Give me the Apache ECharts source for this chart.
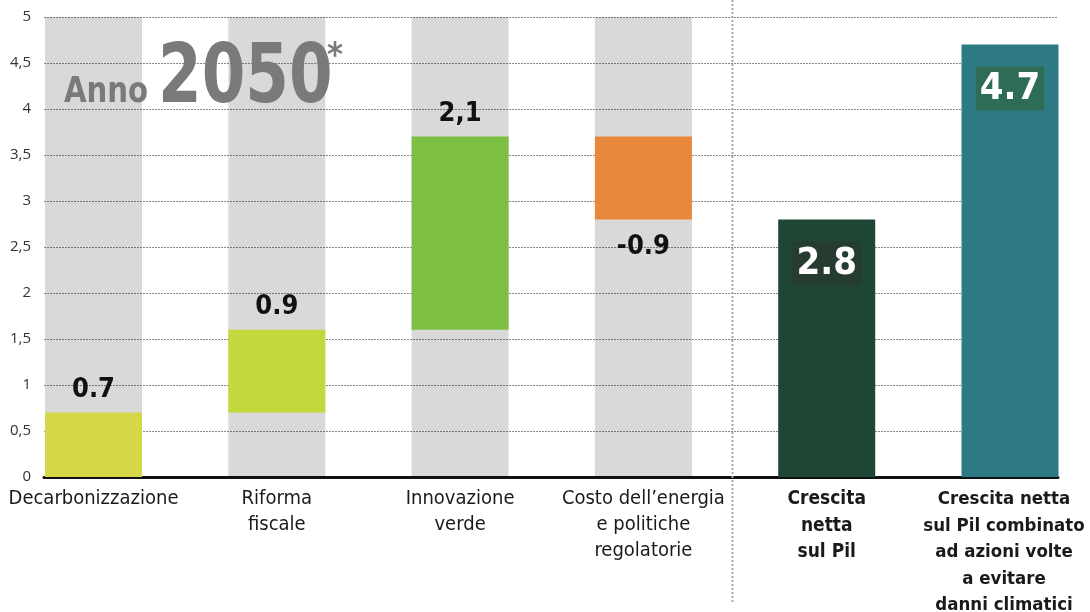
<!DOCTYPE html>
<html><head><meta charset="utf-8">
<script src="https://cdn.jsdelivr.net/npm/echarts@6/dist/echarts.min.js"></script>
<style>html,body{margin:0;padding:0;background:#fff}#c{width:1090px;height:612px}</style>
</head><body><div id="c"></div>
<script>
const categories = ['Decarbonizzazione', 'Riforma\nfiscale', 'Innovazione\nverde', "Costo dell\u2019energia\ne politiche\nregolatorie", 'Crescita\nnetta\nsul Pil', 'Crescita netta\nsul Pil combinato\nad azioni volte\na evitare\ndanni climatici'];
const values = [0.7, 0.9, 2.1, -0.9, 2.8, 4.7];
const isTotal = [false, false, false, false, true, true];
const valueLabels = ['0.7', '0.9', '2,1', '-0.9', '2.8', '4.7'];
const yTickLabels = ['0', '0,5', '1', '1,5', '2', '2,5', '3', '3,5', '4', '4,5', '5'];
const barColors = ['#d5d748', '#c3d83c', '#7cbf42', '#e8883c', '#1f4634', '#2d7a84'];
const totalLabelBg = ['#263c30', '#2f6c55'];

const yMax = 5;
// waterfall construction
let running = 0;
const base = [], delta = [];
values.forEach((v, i) => {
  if (isTotal[i]) { base.push(0); delta.push(v); }
  else if (v >= 0) { base.push(running); delta.push(v); running += v; }
  else { running += v; base.push(running); delta.push(-v); }
});
const bandData = values.map((v, i) => isTotal[i] ? '-' : yMax);

const valueFont = "'DejaVu Sans Condensed', 'DejaVu Sans', sans-serif";
const catFont = "'DejaVu Sans Condensed', 'DejaVu Sans', sans-serif";

const deltaData = delta.map((d, i) => {
  const item = { value: d, itemStyle: { color: barColors[i] } };
  if (isTotal[i]) {
    const ti = i - 4;
    item.label = { show: true, position: 'insideTop', distance: 22, formatter: valueLabels[i],
      color: '#fff', fontSize: 38, fontWeight: 'bold', fontFamily: valueFont,
      backgroundColor: totalLabelBg[ti], padding: [4, 4, 2, 4] };
  } else if (values[i] < 0) {
    item.label = { show: true, position: 'bottom', distance: 14, formatter: valueLabels[i],
      color: '#111', fontSize: 27, fontWeight: 'bold', fontFamily: valueFont };
  } else {
    item.label = { show: true, position: 'top', distance: 9, formatter: valueLabels[i],
      color: '#111', fontSize: 27, fontWeight: 'bold', fontFamily: valueFont };
  }
  return item;
});

const chart = echarts.init(document.getElementById('c'), null, { renderer: 'canvas' });
chart.setOption({
  animation: false,
  backgroundColor: '#fff',
  grid: [
    { left: 44, right: 32, top: 17, bottom: 135, outerBoundsMode: 'none', containLabel: false },
    { left: 93.5, right: 80, top: 17, bottom: 135, outerBoundsMode: 'none', containLabel: false }
  ],
  xAxis: [
    { gridIndex: 0, type: 'category', data: categories, axisLabel: { show: false }, axisTick: { show: false },
      axisLine: { lineStyle: { color: '#111', width: 3 } } },
    { gridIndex: 1, type: 'category', data: categories, boundaryGap: false,
      axisLine: { show: false }, axisTick: { show: false },
      axisLabel: { interval: 0, margin: 9, hideOverlap: false,
        formatter: (val, idx) => val.split('\n').map(l => (isTotal[idx] ? (idx === categories.length - 1 ? '{e|' : '{b|') : '{n|') + l + '}').join('\n'),
        rich: {
          n: { fontFamily: catFont, fontSize: 20, color: '#1a1a1a', lineHeight: 26, align: 'center' },
          b: { fontFamily: valueFont, fontSize: 19, fontWeight: 'bold', color: '#1a1a1a', lineHeight: 26.5, align: 'center' },
          e: { fontFamily: valueFont, fontSize: 18.5, fontWeight: 'bold', color: '#1a1a1a', lineHeight: 26.5, align: 'center', padding: [0, 12, 0, 0] }
        } } }
  ],
  yAxis: [
    { gridIndex: 0, type: 'value', min: 0, max: yMax, interval: 0.5,
      axisLine: { show: false }, axisTick: { show: false },
      axisLabel: { margin: 13, fontSize: 15, color: '#333', fontFamily: "'Open Sans', sans-serif",
        formatter: v => yTickLabels[Math.round(v / 0.5)] },
      splitLine: { lineStyle: { color: '#8a8a8a', width: 1, type: [2, 1] } } },
    { gridIndex: 1, type: 'value', min: 0, max: yMax, interval: 0.5, show: false, splitLine: { show: false } }
  ],
  series: [
    { type: 'bar', xAxisIndex: 1, yAxisIndex: 1, data: bandData, barWidth: 97, barGap: '-100%', clip: false,
      itemStyle: { color: 'rgba(0,0,0,0.15)' }, silent: true },
    { type: 'bar', xAxisIndex: 1, yAxisIndex: 1, stack: 'w', data: base, barWidth: 97, barGap: '-100%', clip: false,
      itemStyle: { color: 'rgba(0,0,0,0)' }, silent: true },
    { type: 'bar', xAxisIndex: 1, yAxisIndex: 1, stack: 'w', data: deltaData, barWidth: 97, barGap: '-100%', clip: false }
  ]
});

// decorations: title and divider
const p3 = chart.convertToPixel({ xAxisIndex: 1 }, 3);
const p4 = chart.convertToPixel({ xAxisIndex: 1 }, 4);
const divX = Math.round((p3 + p4) / 2) - 2.5;
chart.setOption({
  graphic: [
    { type: 'line', shape: { x1: divX, y1: 0, x2: divX, y2: 604 }, style: { stroke: '#a8a8a8', lineWidth: 2, lineDash: [2, 2] }, z: 10 },
    { type: 'text', left: 64, top: 75, style: { text: 'Anno', font: "bold 36px 'DejaVu Sans Condensed', sans-serif", fill: '#7a7a7a' }, scaleX: 0.9, z: 10 },
    { type: 'text', left: 158, top: 40, style: { text: '2050', font: "bold 82px 'DejaVu Sans Condensed', sans-serif", fill: '#7a7a7a' }, scaleX: 0.85, z: 10 },
    { type: 'text', left: 327, top: 40, style: { text: '*', font: "bold 34px 'DejaVu Sans Condensed', sans-serif", fill: '#7a7a7a' }, z: 10 }
  ]
});
</script></body></html>
